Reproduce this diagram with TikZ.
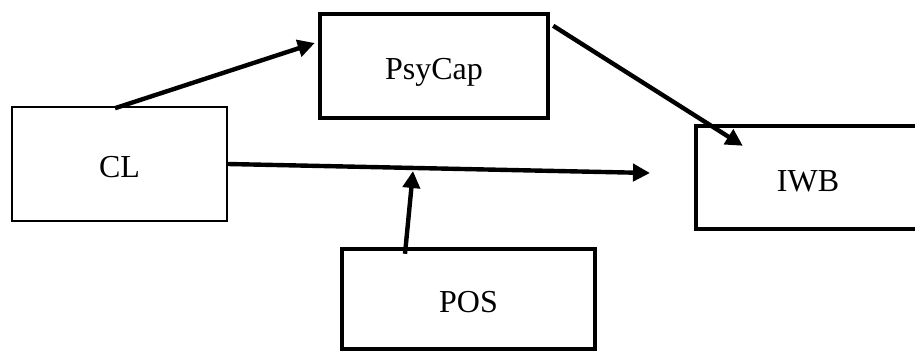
\documentclass[tikz,border=0pt]{standalone}
\usepackage{fontspec}
\setmainfont{Liberation Serif}
\usetikzlibrary{arrows.meta}
\tikzset{
  boxtext/.style={inner sep=0pt, font=\fontsize{32}{38}\selectfont, text height=30pt, text depth=2pt},
  thinbox/.style={boxtext, draw=black, line width=1.6pt},
  thickbox/.style={boxtext, draw=black, line width=4.4pt},
  conn/.style={line width=4.4pt, -{Triangle[length=17pt,width=17pt]}}
}
\begin{document}
\begin{tikzpicture}[x=1pt,y=-1pt]
\useasboundingbox (0,0) rectangle (915,352);
\clip (0,0) rectangle (915,352);
\fill[white] (0,0) rectangle (915,352);
\node[thinbox, minimum width=215pt, minimum height=114pt] (cl) at (119.5,164) {CL};
\node[thickbox, minimum width=228pt, minimum height=104pt] (psycap) at (434,66) {PsyCap};
\node[thickbox, minimum width=224pt, minimum height=103pt] (iwb) at (808,177.5) {IWB};
\node[thickbox, minimum width=253pt, minimum height=100pt] (pos) at (468.5,299) {POS};
\coordinate (dend) at (650,173);
\coordinate (mod) at (413,171);
\draw[conn] ([xshift=-4.5pt,yshift=-2pt]cl.north) -- ([xshift=-3pt,yshift=23pt]psycap.west);
\draw[conn] ([xshift=3pt,yshift=-14pt]psycap.north east) -- ([xshift=49pt,yshift=-22pt]iwb.north west);
\draw[conn] (cl.east) -- (dend);
\draw[conn] ([xshift=-63.5pt,yshift=-7pt]pos.north) -- (mod);
\end{tikzpicture}
\end{document}
